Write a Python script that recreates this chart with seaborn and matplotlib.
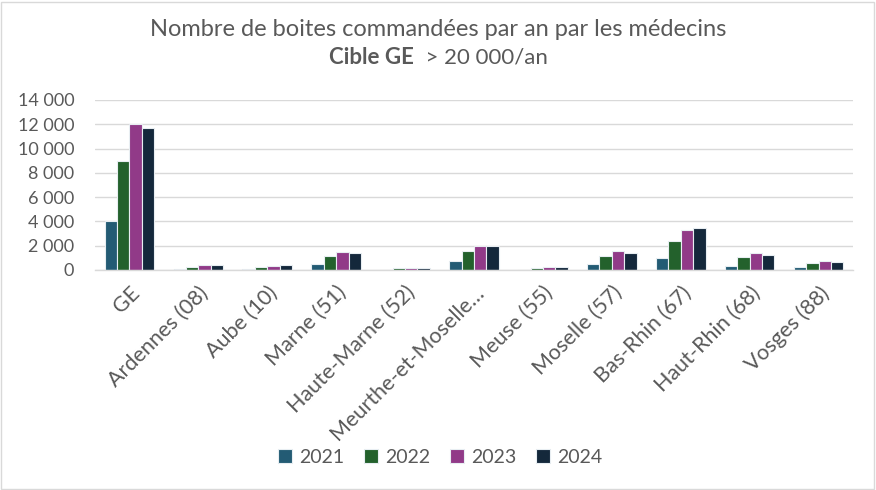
import matplotlib
matplotlib.use("Agg")
import matplotlib.pyplot as plt
import matplotlib.ticker as mticker
from matplotlib.patches import Rectangle
import seaborn as sns
import pandas as pd

categories = ["GE", "Ardennes (08)", "Aube (10)", "Marne (51)", "Haute-Marne (52)",
              "Meurthe-et-Moselle…", "Meuse (55)", "Moselle (57)", "Bas-Rhin (67)",
              "Haut-Rhin (68)", "Vosges (88)"]
years = ["2021", "2022", "2023", "2024"]
v2021 = [4000, 110, 110, 520, 20, 770, 20, 520, 990, 360, 250]
v2022 = [9000, 275, 275, 1180, 130, 1570, 170, 1180, 2390, 1100, 600]
v2023 = [12000, 440, 360, 1480, 140, 2000, 250, 1570, 3270, 1430, 770]
v2024 = [11700, 440, 440, 1430, 140, 2000, 250, 1430, 3430, 1260, 690]
colors = ["#156082", "#196B24", "#A02B93", "#0E2841"]

rows = []
for y, vals in zip(years, [v2021, v2022, v2023, v2024]):
    for c, v in zip(categories, vals):
        rows.append({"cat": c, "year": y, "val": v})
df = pd.DataFrame(rows)

sns.set_theme(style="white")
plt.rcParams["font.family"] = ["Lato", "DejaVu Sans"]
grey = "#595959"

fig = plt.figure(figsize=(8.76, 4.9), dpi=100)
ax = fig.add_axes([95/876, 1-270/490, (853-95)/876, 170/490])
sns.barplot(data=df, x="cat", y="val", hue="year", palette=colors, ax=ax,
            width=0.72, edgecolor="#e8eef2", linewidth=0.8, legend=True,
            order=categories, hue_order=years, errorbar=None)

ax.set_ylim(0, 14000)
ax.set_yticks(range(0, 14001, 2000))
ax.yaxis.set_major_formatter(mticker.FuncFormatter(lambda v, p: f"{int(v):,}".replace(",", " ")))
ax.grid(axis="y", color="#d9d9d9", lw=1)
ax.set_axisbelow(True)
for s in ["top", "right", "left"]:
    ax.spines[s].set_visible(False)
ax.spines["bottom"].set_color("#d9d9d9")
ax.spines["bottom"].set_linewidth(1)
ax.set_xlabel("")
ax.set_ylabel("")
ax.tick_params(axis="y", length=0, pad=15, labelsize=13, labelcolor=grey)
ax.tick_params(axis="x", length=0, pad=9, labelsize=15.5, labelcolor=grey)
ax.set_xlim(-0.5, len(categories) - 0.5)
for lbl in ax.get_xticklabels():
    lbl.set_rotation(45)
    lbl.set_ha("right")
    lbl.set_rotation_mode("anchor")

handles, labels = ax.get_legend_handles_labels()
ax.get_legend().remove()
fig.legend(handles, labels, loc="center", bbox_to_anchor=(440/876, 1-457/490), ncol=4,
           frameon=False, handlelength=0.75, handleheight=0.75, handletextpad=0.35,
           columnspacing=1.0, prop={"size": 14}, labelcolor=grey)

fig.text(0.5, 1-30/490, "Nombre de boites commandées par an par les médecins",
         ha="center", va="center", fontsize=17, color=grey)
# second title line with mixed weights
fig.canvas.draw()
r = fig.canvas.get_renderer()
t1 = fig.text(0, 1-58/490, "Cible GE", ha="left", va="center", fontsize=16,
              color=grey, fontweight="bold")
t2 = fig.text(0, 1-58/490, "  > 20 000/an", ha="left", va="center", fontsize=16, color=grey)
w1 = t1.get_window_extent(r).width
w2 = t2.get_window_extent(r).width
x0 = (876 - (w1 + w2)) / 2
t1.set_x(x0 / 876)
t2.set_x((x0 + w1) / 876)

fig.patches.append(Rectangle((1/876, 1/490), 873/876, 487/490, transform=fig.transFigure,
                             fill=False, edgecolor="#d9d9d9", lw=1))

fig.savefig("out.png", dpi=100)
